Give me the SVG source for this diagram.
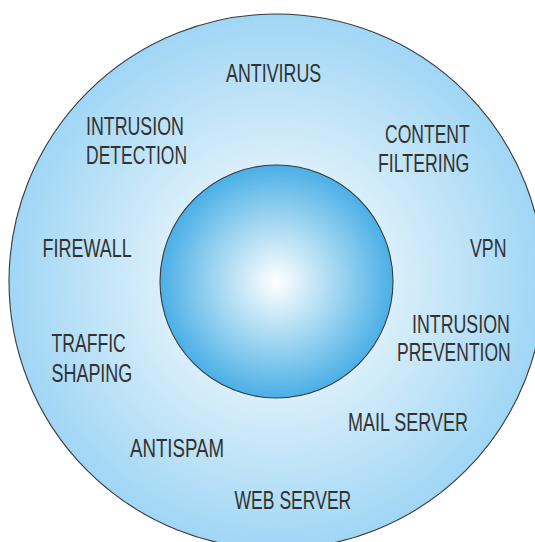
<svg xmlns="http://www.w3.org/2000/svg" width="535" height="542" viewBox="0 0 535 542">
<style>
text{font-family:"Liberation Sans",Arial,sans-serif;font-size:25px;fill:#333231}
.c{stroke:#3a3a3a;stroke-width:1.1}
</style>
<defs>
<radialGradient id="outer" gradientUnits="userSpaceOnUse" cx="276.5" cy="281.5" r="267">
<stop offset="0" stop-color="#ffffff"/>
<stop offset="0.45" stop-color="#d8eefa"/>
<stop offset="1" stop-color="#a0d6f5"/>
</radialGradient>
<radialGradient id="inner" gradientUnits="userSpaceOnUse" cx="276.5" cy="281.5" r="116.5">
<stop offset="0" stop-color="#ffffff"/>
<stop offset="0.5" stop-color="#a5d8f2"/>
<stop offset="1" stop-color="#4aafe6"/>
</radialGradient>
</defs>
<rect width="535" height="542" fill="#ffffff"/>
<g id="outer-ring"><circle class="c" cx="276.5" cy="281.5" r="267.5" fill="url(#outer)"/></g>
<g id="core"><circle class="c" cx="276.5" cy="281.5" r="116.5" fill="url(#inner)"/></g>
<g id="antivirus"><text transform="translate(226 82) scale(.714 1)">ANTIVIRUS</text></g>
<g id="intrusion-detection"><text transform="translate(86 135) scale(.712 1)">INTRUSION</text><text transform="translate(86 163.5) scale(.7 1)">DETECTION</text></g>
<g id="content-filtering"><text transform="translate(385 143) scale(.702 1)">CONTENT</text><text transform="translate(378 172) scale(.71 1)">FILTERING</text></g>
<g id="firewall"><text transform="translate(42.5 256.5) scale(.72 1)">FIREWALL</text></g>
<g id="vpn"><text transform="translate(470 257) scale(.71 1)">VPN</text></g>
<g id="intrusion-prevention"><text transform="translate(412 333) scale(.712 1)">INTRUSION</text><text transform="translate(397 361) scale(.7 1)">PREVENTION</text></g>
<g id="traffic-shaping"><text transform="translate(51.5 352) scale(.705 1)">TRAFFIC</text><text transform="translate(51.5 382) scale(.718 1)">SHAPING</text></g>
<g id="mail-server"><text transform="translate(348 430.5) scale(.72 1)">MAIL SERVER</text></g>
<g id="antispam"><text transform="translate(130 457) scale(.747 1)">ANTISPAM</text></g>
<g id="web-server"><text transform="translate(234.5 509) scale(.703 1)">WEB SERVER</text></g>
<g id="connectors"></g>
</svg>
